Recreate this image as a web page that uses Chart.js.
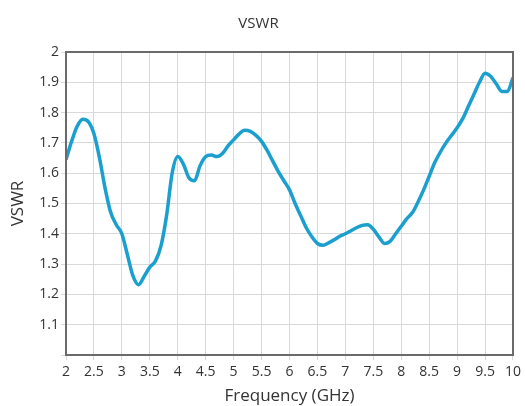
<!DOCTYPE html>
<html>
<head>
<meta charset="utf-8">
<script src="https://cdn.jsdelivr.net/npm/chart.js@4/dist/chart.umd.min.js"></script>
<style>
  html, body { margin: 0; padding: 0; background: #ffffff; }
  #wrap { width: 525px; height: 406px; }
</style>
</head>
<body>
<div id="wrap"><canvas id="c" width="525" height="406"></canvas></div>
<script>
const frequencies = [
  2.0, 2.1, 2.2, 2.3, 2.4, 2.5, 2.6, 2.7, 2.8, 2.9,
  3.0, 3.1, 3.2, 3.3, 3.4, 3.5, 3.6, 3.7, 3.8, 3.9,
  4.0, 4.1, 4.2, 4.3, 4.4, 4.5, 4.6, 4.7, 4.8, 4.9,
  5.0, 5.1, 5.2, 5.3, 5.4, 5.5, 5.6, 5.7, 5.8, 5.9,
  6.0, 6.1, 6.2, 6.3, 6.4, 6.5, 6.6, 6.7, 6.8, 6.9,
  7.0, 7.1, 7.2, 7.3, 7.4, 7.5, 7.6, 7.7, 7.8, 7.9,
  8.0, 8.1, 8.2, 8.3, 8.4, 8.5, 8.6, 8.7, 8.8, 8.9,
  9.0, 9.1, 9.2, 9.3, 9.4, 9.5, 9.6, 9.7, 9.8, 9.9,
  10.0
];
const vswrValues = [
  1.645, 1.705, 1.755, 1.778, 1.770, 1.730, 1.650, 1.550, 1.470, 1.430,
  1.400, 1.330, 1.260, 1.232, 1.260, 1.290, 1.310, 1.360, 1.460, 1.600,
  1.655, 1.630, 1.585, 1.575, 1.625, 1.655, 1.660, 1.655, 1.665, 1.690,
  1.710, 1.730, 1.742, 1.738, 1.725, 1.705, 1.675, 1.640, 1.605, 1.575,
  1.545, 1.500, 1.460, 1.420, 1.390, 1.368, 1.362, 1.370, 1.380, 1.392,
  1.400, 1.410, 1.420, 1.428, 1.430, 1.415, 1.390, 1.368, 1.375, 1.400,
  1.425, 1.450, 1.470, 1.505, 1.545, 1.590, 1.635, 1.670, 1.700, 1.725,
  1.750, 1.780, 1.820, 1.860, 1.900, 1.930, 1.920, 1.895, 1.870, 1.870,
  1.915
];
const xTickValues = [2, 2.5, 3, 3.5, 4, 4.5, 5, 5.5, 6, 6.5, 7, 7.5, 8, 8.5, 9, 9.5, 10];
const xTickLabels = ['2', '2.5', '3', '3.5', '4', '4.5', '5', '5.5', '6', '6.5', '7', '7.5', '8', '8.5', '9', '9.5', '10'];
const yTickValues = [1, 1.1, 1.2, 1.3, 1.4, 1.5, 1.6, 1.7, 1.8, 1.9, 2];
const yTickLabels = ['', '1.1', '1.2', '1.3', '1.4', '1.5', '1.6', '1.7', '1.8', '1.9', '2'];

const FONT = "'Open Sans', 'Noto Sans', sans-serif";
const TEXT = '#333333';
const GRID = '#d9d9d9';

const framePlugin = {
  id: 'frame',
  afterDatasetsDraw(chart) {
    const a = chart.chartArea, ctx = chart.ctx;
    ctx.save();
    ctx.strokeStyle = '#6a6a6a';
    ctx.lineWidth = 2;
    ctx.strokeRect(a.left, a.top, a.right - a.left, a.bottom - a.top);
    ctx.restore();
  }
};

new Chart(document.getElementById('c'), {
  type: 'line',
  data: {
    datasets: [{
      label: 'VSWR',
      data: frequencies.map((f, i) => ({ x: f, y: vswrValues[i] })),
      borderColor: '#1a9fcf',
      borderWidth: 3.5,
      pointRadius: 0,
      tension: 0.4,
      cubicInterpolationMode: 'monotone',
      fill: false
    }]
  },
  options: {
    responsive: false,
    animation: false,
    devicePixelRatio: 1,
    layout: { padding: { left: 0, right: 8, top: 0, bottom: 0 } },
    plugins: {
      legend: { display: false },
      tooltip: { enabled: false },
      title: {
        display: true,
        text: 'VSWR',
        color: TEXT,
        font: { family: FONT, size: 15, weight: 'normal' },
        padding: { top: 15, bottom: 19 }
      }
    },
    scales: {
      x: {
        type: 'linear',
        min: 2, max: 10,
        afterBuildTicks(scale) { scale.ticks = xTickValues.map(v => ({ value: v })); },
        afterFit(scale) { scale.height = 51; },
        border: { display: false },
        grid: { color: GRID, lineWidth: 1, tickLength: 5, drawTicks: true },
        ticks: {
          color: TEXT,
          font: { family: FONT, size: 14 },
          padding: 4,
          maxRotation: 0,
          autoSkip: false,
          callback(value, index) { return xTickLabels[index]; }
        },
        title: {
          display: true,
          text: 'Frequency (GHz)',
          color: TEXT,
          font: { family: FONT, size: 17 },
          padding: { top: 0, bottom: 0 }
        }
      },
      y: {
        type: 'linear',
        min: 1, max: 2,
        afterBuildTicks(scale) { scale.ticks = yTickValues.map(v => ({ value: v })); },
        afterFit(scale) { scale.width = 66; },
        border: { display: false },
        grid: { color: GRID, lineWidth: 1, tickLength: 5, drawTicks: true },
        ticks: {
          color: TEXT,
          font: { family: FONT, size: 14 },
          padding: 2,
          autoSkip: false,
          callback(value, index) { return yTickLabels[index]; }
        },
        title: {
          display: true,
          text: 'VSWR',
          color: TEXT,
          font: { family: FONT, size: 17 },
          padding: { top: 8, bottom: 0 }
        }
      }
    }
  },
  plugins: [framePlugin]
});
</script>
</body>
</html>
